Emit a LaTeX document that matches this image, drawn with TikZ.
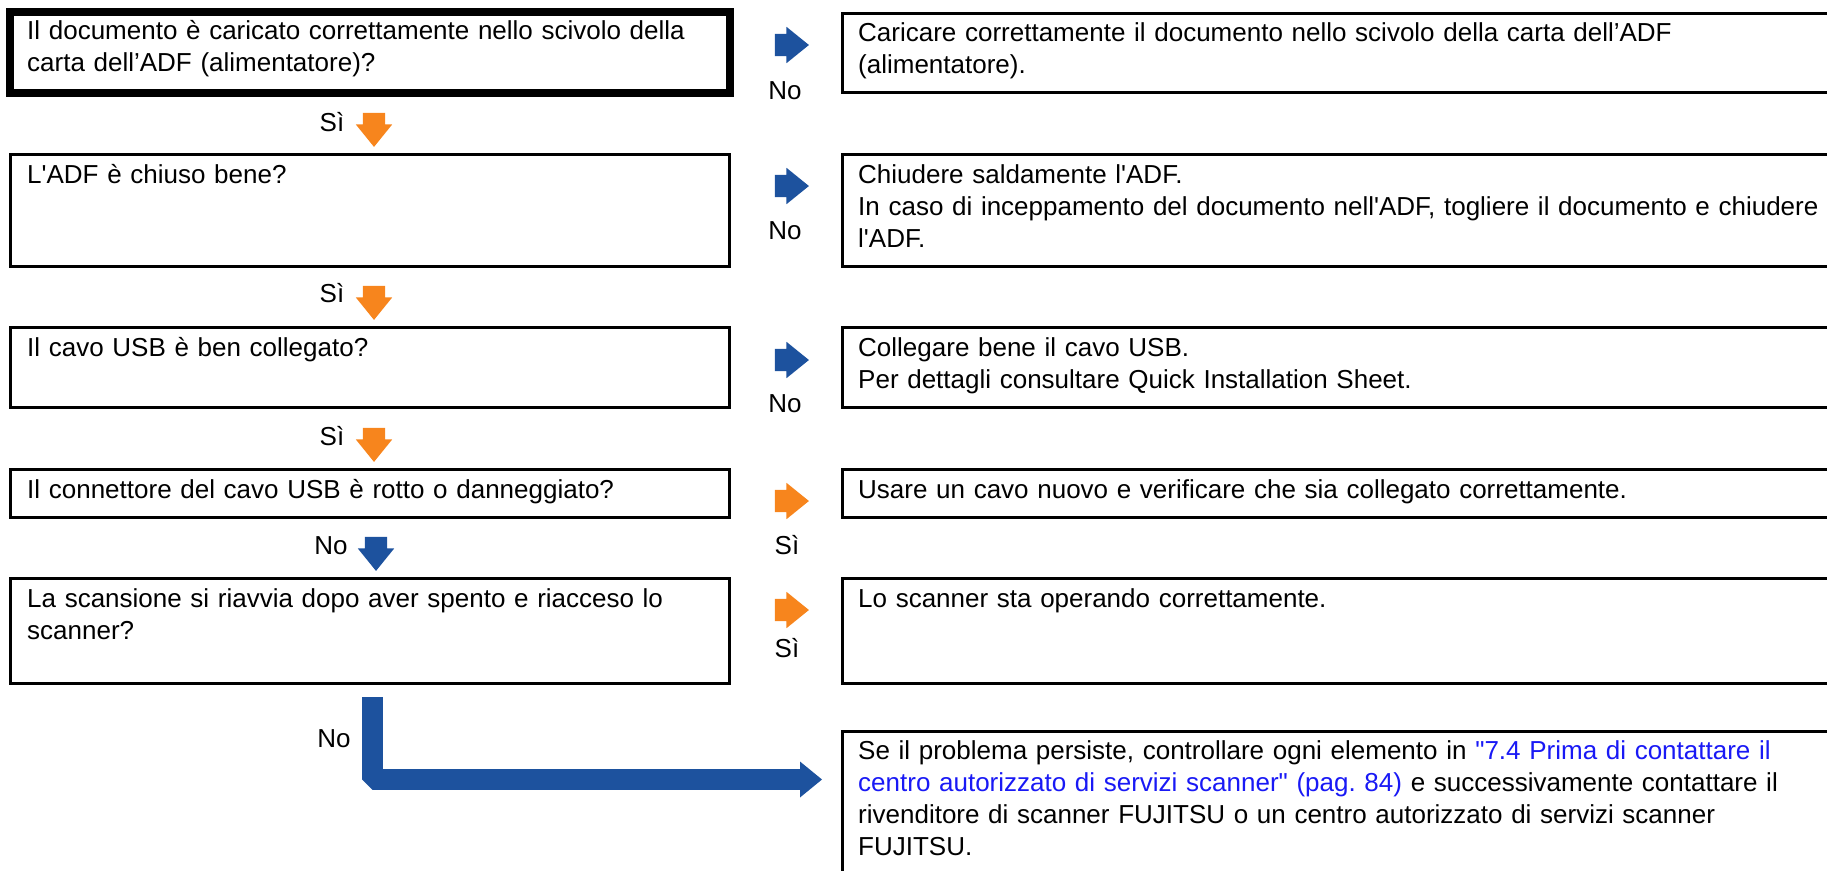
\documentclass[tikz,border=0pt]{standalone}
\usepackage{fontspec}
\newfontfamily\diagfont{Liberation Sans}
\usetikzlibrary{positioning,shapes.arrows,arrows.meta}
\definecolor{noblue}{RGB}{29,82,158}
\definecolor{siorange}{RGB}{247,133,29}
\definecolor{linkblue}{RGB}{25,25,245}
\frenchspacing

\begin{document}
\begin{tikzpicture}[
    x=1pt, y=-1pt,
    qbox/.style={rectangle, draw, line width=3pt, anchor=north west, minimum width=719pt, inner sep=0pt, outer sep=0pt},
    abox/.style={rectangle, draw, line width=3pt, anchor=north west, minimum width=1100pt, inner sep=0pt, outer sep=0pt},
    boxtext/.style={font=\diagfont\fontsize{26}{32.3}\selectfont, text width=990pt, align=left, inner sep=0pt},
    answer/.style={font=\diagfont\fontsize{26}{32.3}\selectfont, inner sep=0pt, anchor=base},
    blockarrow/.style={single arrow, draw=none, inner xsep=0pt, inner ysep=11pt, minimum height=34pt, single arrow head extend=7pt, single arrow tip angle=78},
    rightarrow/.style={blockarrow},
    downarrow/.style={blockarrow, rotate=-90}
]
\useasboundingbox (0,0) rectangle (1827,870);
\clip (0,0) rectangle (1827,870);

% Questions
\node[qbox, line width=8pt, minimum width=720pt, minimum height=81pt] (q1) at (10,12) {};
\node[boxtext, below right=27pt and 17pt of q1.north west, anchor=base west] (q1t) {Il documento è caricato correttamente nello scivolo della\\carta dell’ADF (alimentatore)?};

\node[qbox, minimum height=112pt] (q2) at (10,154) {};
\node[boxtext, below right=29pt and 17pt of q2.north west, anchor=base west] (q2t) {L'ADF è chiuso bene?};

\node[qbox, minimum height=80pt] (q3) at (10,327) {};
\node[boxtext, below right=29pt and 17pt of q3.north west, anchor=base west] (q3t) {Il cavo USB è ben collegato?};

\node[qbox, minimum height=48pt] (q4) at (10,469) {};
\node[boxtext, below right=29pt and 17pt of q4.north west, anchor=base west] (q4t) {Il connettore del cavo USB è rotto o danneggiato?};

\node[qbox, minimum height=105pt] (q5) at (10,578) {};
\node[boxtext, below right=29pt and 17pt of q5.north west, anchor=base west] (q5t) {La scansione si riavvia dopo aver spento e riacceso lo\\scanner?};

% Answers
\node[abox, minimum height=79pt] (a1) at (842,13) {};
\node[boxtext, below right=28pt and 16pt of a1.north west, anchor=base west] (a1t) {Caricare correttamente il documento nello scivolo della carta dell’ADF\\(alimentatore).};

\node[abox, minimum height=112pt] (a2) at (842,154) {};
\node[boxtext, below right=29pt and 16pt of a2.north west, anchor=base west] (a2t) {Chiudere saldamente l'ADF.\\In caso di inceppamento del documento nell'ADF, togliere il documento e chiudere\\l'ADF.};

\node[abox, minimum height=80pt] (a3) at (842,327) {};
\node[boxtext, below right=29pt and 16pt of a3.north west, anchor=base west] (a3t) {Collegare bene il cavo USB.\\Per dettagli consultare Quick Installation Sheet.};

\node[abox, minimum height=48pt] (a4) at (842,469) {};
\node[boxtext, below right=29pt and 16pt of a4.north west, anchor=base west] (a4t) {Usare un cavo nuovo e verificare che sia collegato correttamente.};

\node[abox, minimum height=105pt] (a5) at (842,578) {};
\node[boxtext, below right=29pt and 16pt of a5.north west, anchor=base west] (a5t) {Lo scanner sta operando correttamente.};

\node[abox, minimum height=200pt] (a6) at (842,731) {};
\node[boxtext, below right=28pt and 16pt of a6.north west, anchor=base west] (a6t) {Se il problema persiste, controllare ogni elemento in {\color{linkblue}"7.4 Prima di contattare il}\\{\color{linkblue}centro autorizzato di servizi scanner" (pag. 84)} e successivamente contattare il\\rivenditore di scanner FUJITSU o un centro autorizzato di servizi scanner\\FUJITSU.};

% Sideways arrows
\node[rightarrow, fill=noblue] (q1no) at (785,45) {};
\node[answer] (q1nol) at (785,99) {No};
\node[rightarrow, fill=noblue] (q2no) at (785,186) {};
\node[answer] (q2nol) at (785,239) {No};
\node[rightarrow, fill=noblue] (q3no) at (785,360) {};
\node[answer] (q3nol) at (785,412) {No};
\node[rightarrow, fill=siorange] (q4si) at (785,501) {};
\node[answer] (q4sil) at (787,554) {Sì};
\node[rightarrow, fill=siorange] (q5si) at (785,610) {};
\node[answer] (q5sil) at (787,657) {Sì};

% Downward arrows
\node[downarrow, fill=siorange] (q1si) at (374,123) {};
\node[answer] (q1sil) at (332,131) {Sì};
\node[downarrow, fill=siorange] (q2si) at (374,296) {};
\node[answer] (q2sil) at (332,302) {Sì};
\node[downarrow, fill=siorange] (q3si) at (374,438) {};
\node[answer] (q3sil) at (332,445) {Sì};
\node[downarrow, fill=noblue] (q4no) at (376,547) {};
\node[answer] (q4nol) at (331,554) {No};

% Last No
\coordinate (q5nostart) at (372.5,697);
\coordinate (q5noend) at (822,779.5);
\draw[noblue, line width=21pt, line join=bevel, -{Triangle[length=22pt, width=36pt, line width=0pt]}] (q5nostart) |- (q5noend);
\node[answer] (q5nol) at (334,747) {No};

\end{tikzpicture}
\end{document}
